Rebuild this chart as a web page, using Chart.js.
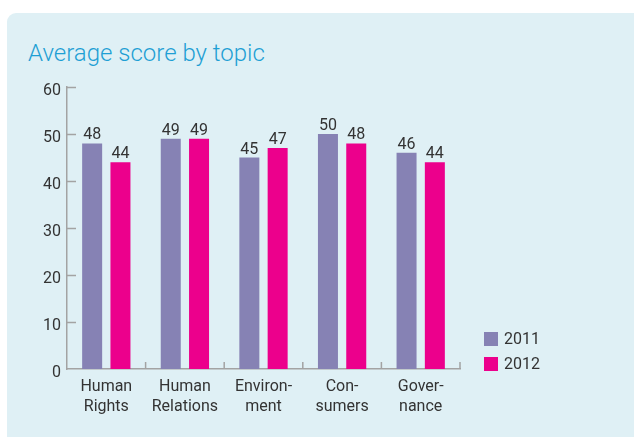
<!DOCTYPE html>
<html>
<head>
<meta charset="utf-8">
<script src="https://cdn.jsdelivr.net/npm/chart.js@4"></script>
<style>
  html, body { margin: 0; background: #ffffff; }
  #panel {
    position: absolute; left: 7px; top: 13px; width: 627px; height: 424px;
    background: #dff0f5; border-top-left-radius: 9px;
  }
  #title {
    position: absolute; left: 28px; top: 39px;
    font: 300 24px Roboto; color: #1e9fd4; white-space: nowrap;
  }
  #wrap { position: absolute; left: 0; top: 0; width: 634px; height: 437px; }
</style>
</head>
<body>
<div id="panel"></div>
<div id="title">Average score by topic</div>
<div id="wrap"><canvas id="c" width="634" height="437"></canvas></div>
<script>
'use strict'

const categories = [
  ['Human', 'Rights'],
  ['Human', 'Relations'],
  ['Environ-', 'ment'],
  ['Con-', 'sumers'],
  ['Gover-', 'nance']
]
const seriesNames = ['2011', '2012']
const values2011 = [48, 49, 45, 50, 46]
const values2012 = [44, 49, 47, 48, 44]
const seriesColors = ['#8682b4', '#ec008c']

const textFont = { family: 'Roboto', size: 16, weight: '400' }
const axisColor = '#a3a3a3'
const textColor = '#333333'

// values above bars, inner axis ticks, legend
const extras = {
  id: 'extras',
  afterDatasetsDraw(chart) {
    const ctx = chart.ctx
    ctx.save()
    ctx.font = '400 16px Roboto'
    ctx.fillStyle = textColor
    ctx.textAlign = 'center'
    ctx.textBaseline = 'alphabetic'
    chart.data.datasets.forEach((ds, i) => {
      chart.getDatasetMeta(i).data.forEach((bar, j) => {
        ctx.fillText(String(ds.data[j]), bar.x, bar.y - 4)
      })
    })
    ctx.restore()
  },
  afterDraw(chart) {
    const ctx = chart.ctx
    const x = chart.scales.x
    const y = chart.scales.y
    ctx.save()
    ctx.strokeStyle = axisColor
    ctx.lineWidth = 1.5
    ctx.beginPath()
    y.ticks.forEach((t) => {
      if (t.value === 0) return
      const py = Math.round(y.getPixelForValue(t.value)) + 0.5
      ctx.moveTo(x.left, py)
      ctx.lineTo(x.left + 9, py)
    })
    const n = chart.data.labels.length
    for (let i = 1; i <= n; i++) {
      const px = x.left + (x.width / n) * i
      ctx.moveTo(px, y.bottom)
      ctx.lineTo(px, y.bottom - 7)
    }
    ctx.stroke()

    // legend
    ctx.font = '400 16px Roboto'
    ctx.textAlign = 'left'
    ctx.textBaseline = 'middle'
    chart.data.datasets.forEach((ds, i) => {
      const top = 332 + i * 25
      ctx.fillStyle = ds.backgroundColor
      ctx.fillRect(484, top, 14, 14)
      ctx.fillStyle = textColor
      ctx.fillText(ds.label, 504, top + 7.5)
    })
    ctx.restore()
  }
}

new Chart(document.getElementById('c'), {
  type: 'bar',
  data: {
    labels: categories,
    datasets: [
      { label: seriesNames[0], data: values2011, backgroundColor: seriesColors[0] },
      { label: seriesNames[1], data: values2012, backgroundColor: seriesColors[1] }
    ]
  },
  options: {
    responsive: false,
    animation: false,
    categoryPercentage: 0.72,
    barPercentage: 0.707,
    layout: { padding: { top: 87, right: 174, left: 0, bottom: 0 } },
    scales: {
      x: {
        grid: { display: false, drawTicks: false, tickLength: 0 },
        border: { display: true, color: axisColor, width: 1.5 },
        ticks: { font: { ...textFont, lineHeight: 1.25 }, color: textColor, padding: 8, maxRotation: 0, autoSkip: false },
        afterFit: (s) => { s.height = 68 }
      },
      y: {
        min: 0,
        max: 60,
        grid: { display: false, drawTicks: false, tickLength: 0 },
        border: { display: true, color: axisColor, width: 1.5 },
        ticks: { stepSize: 10, font: textFont, color: textColor, padding: 6, labelOffset: 4 },
        afterFit: (s) => { s.width = 67 }
      }
    },
    plugins: {
      legend: { display: false },
      tooltip: { enabled: false }
    }
  },
  plugins: [extras]
})
</script>
</body>
</html>
